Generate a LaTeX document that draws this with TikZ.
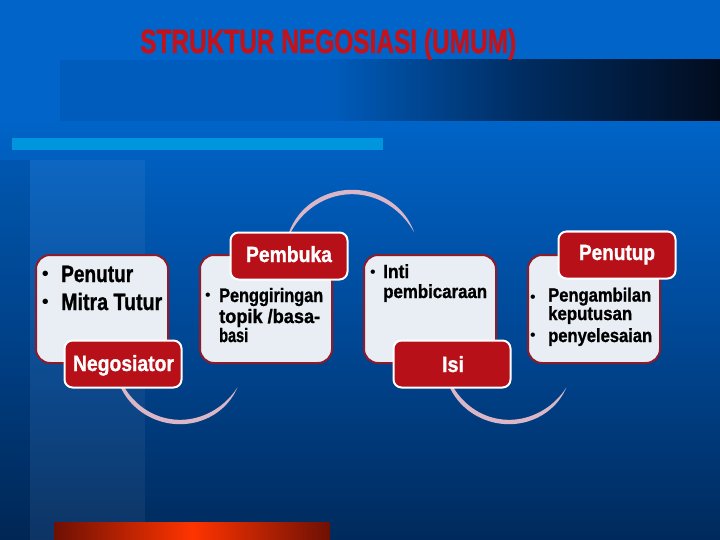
\documentclass[tikz,border=0pt]{standalone}
\usepackage{fontspec}
\setmainfont{Liberation Sans}[BoldFeatures={FakeBold=1.2}]
\usepackage{graphicx}
\definecolor{bgtop}{RGB}{0,100,200}
\definecolor{bgmid}{RGB}{0,72,150}
\definecolor{bgbot}{RGB}{0,42,92}
\definecolor{bandA}{RGB}{0,92,188}
\definecolor{bandM}{RGB}{0,44,96}
\definecolor{bandend}{RGB}{2,12,30}
\definecolor{lightbar}{RGB}{0,150,222}
\definecolor{titlered}{RGB}{196,18,26}
\definecolor{boxfill}{RGB}{232,238,244}
\definecolor{boxline}{RGB}{140,28,44}
\definecolor{redfill}{RGB}{184,16,24}
\definecolor{arcc}{RGB}{218,182,198}
\definecolor{orangec}{RGB}{255,52,0}
\definecolor{orangedk}{RGB}{110,16,4}
\newlength\fitwd
\newcommand\fitt[3]{{\fontsize{#2}{#2}\selectfont\bfseries
  \settowidth{\fitwd}{#3}\pgfmathsetmacro\fitsc{#1/\fitwd}\scalebox{\fitsc}[1]{#3}}}
% tapered arc: centre (#1,#2), radius #3, from angle #4 to #5
\newcommand\tarc[5]{%
  \fill[arcc] plot[domain=#4:#5,samples=70]
    ({#1+(#3+2.2*abs(sin((\x-#4)/(#5-#4)*180))*(2-abs(sin((\x-#4)/(#5-#4)*180))))*cos(\x)},
     {#2+(#3+2.2*abs(sin((\x-#4)/(#5-#4)*180))*(2-abs(sin((\x-#4)/(#5-#4)*180))))*sin(\x)})
  -- plot[domain=#5:#4,samples=70]
    ({#1+(#3-2.2*abs(sin((\x-#4)/(#5-#4)*180))*(2-abs(sin((\x-#4)/(#5-#4)*180))))*cos(\x)},
     {#2+(#3-2.2*abs(sin((\x-#4)/(#5-#4)*180))*(2-abs(sin((\x-#4)/(#5-#4)*180))))*sin(\x)})
  -- cycle;}
\tikzset{
  lbox/.style={draw=boxline, line width=2pt, fill=boxfill, rounded corners=14pt,
    minimum width=132pt, minimum height=108pt, inner sep=0pt},
  rbox/.style={draw=white, line width=2pt, fill=redfill, rounded corners=8pt,
    minimum width=117pt, minimum height=47pt, inner sep=0pt},
  lab/.style={inner sep=0pt, anchor=base, text=white},
  txt/.style={inner sep=0pt, anchor=base west, text=black},
  bul/.style={inner sep=0pt, anchor=base, text=black}
}
\begin{document}
\begin{tikzpicture}[x=1pt,y=-1pt]
\useasboundingbox (0,0) rectangle (720,540);
% background
\fill[bgtop] (0,0) rectangle (720,120);
\shade[top color=bgtop, bottom color=bgbot, middle color=bgmid] (0,119) rectangle (720,540);
\fill[black,opacity=0.08] (0,160) rectangle (30,540);
\fill[white,opacity=0.05] (30,160) rectangle (145,540);
% dark band
\fill[bandA] (60,60) rectangle (330,121);
\shade[left color=bandA, right color=bandend, middle color=bandM] (330,60) rectangle (720,121);
% light bar
\fill[lightbar] (12,138) rectangle (383,150);
% orange bar
\shade[left color=orangedk, right color=orangedk, middle color=orangec] (54,522) rectangle (330,540);
% title
\node[txt,text=titlered] (title) at (140,53) {\fitt{376}{33.5}{STRUKTUR NEGOSIASI (UMUM)}};
% arcs
\tarc{180}{357}{65}{28}{175}
\tarc{352}{260}{68}{195}{336}
\tarc{509}{357}{65}{28}{175}
% light boxes
\node[lbox] (b1) at (102,309) {};
\node[lbox] (b2) at (266,309) {};
\node[lbox] (b3) at (430,309) {};
\node[lbox] (b4) at (594,309) {};
% red boxes
\node[rbox] (neg) at (123,364) {};
\node[rbox] (pem) at (289,256) {};
\node[rbox] (isi) at (452,364) {};
\node[rbox] (pen) at (617,255) {};
% red labels
\node[lab] (tneg) at (123.5,371) {\fitt{101}{22}{Negosiator}};
\node[lab] (tpem) at (289,262) {\fitt{86}{22}{Pembuka}};
\node[lab] (tisi) at (453,372) {\fitt{22}{22}{Isi}};
\node[lab] (tpen) at (617,260) {\fitt{76}{22}{Penutup}};
% box 1 text
\node[bul] (u1a) at (45.5,280) {\fontsize{20}{20}\selectfont •};
\node[txt] (t1a) at (61,282) {\fitt{72}{23.7}{Penutur}};
\node[bul] (u1b) at (45.5,308) {\fontsize{20}{20}\selectfont •};
\node[txt] (t1b) at (61,310) {\fitt{101}{23.7}{Mitra Tutur}};
% box 2 text
\node[bul] (u2a) at (208,300.8) {\fontsize{16}{16}\selectfont •};
\node[txt] (t2a) at (219,302) {\fitt{104}{19.5}{Penggiringan}};
\node[txt] (t2b) at (219,323) {\fitt{101}{19.5}{topik /basa-}};
\node[txt] (t2c) at (219,342) {\fitt{29}{19.5}{basi}};
% box 3 text
\node[bul] (u3a) at (373,277.5) {\fontsize{16}{16}\selectfont •};
\node[txt] (t3a) at (383,278) {\fitt{26}{19}{Inti}};
\node[txt] (t3b) at (383,298) {\fitt{104}{19}{pembicaraan}};
% box 4 text
\node[bul] (u4a) at (533,302) {\fontsize{16}{16}\selectfont •};
\node[txt] (t4a) at (548,301.5) {\fitt{103}{19}{Pengambilan}};
\node[txt] (t4b) at (548,320) {\fitt{84}{19}{keputusan}};
\node[bul] (u4b) at (533,340.8) {\fontsize{16}{16}\selectfont •};
\node[txt] (t4c) at (548,342) {\fitt{104}{19}{penyelesaian}};
\end{tikzpicture}
\end{document}
